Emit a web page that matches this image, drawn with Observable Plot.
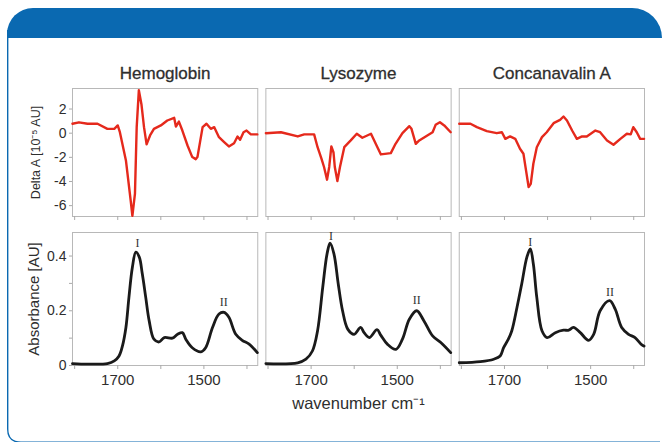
<!DOCTYPE html>
<html><head><meta charset="utf-8">
<script src="https://cdn.jsdelivr.net/npm/d3@7"></script>
<script src="https://cdn.jsdelivr.net/npm/@observablehq/plot@0.6"></script>
<style>
html,body{margin:0;padding:0;background:#fff;font-family:"Liberation Sans",Arial,sans-serif;overflow:hidden;}
#page{position:relative;width:666px;height:442px;overflow:hidden;background:#fff;}
#band{position:absolute;left:7px;top:8px;width:655px;height:30px;background:#0a69b1;border-radius:26px 30px 0 0;}
#border{position:absolute;left:0;top:0;}
.plot{position:absolute;left:0;}
</style></head>
<body>
<div id="page">
<svg id="border" width="666" height="442"><path d="M7.7,30 V429 Q7.7,442.2 21,442.2 H660" fill="none" stroke="#0a69b1" stroke-width="1.4"/></svg>
<div id="band"></div>
</div>
<script>
// ---- data ----
const proteins = ["Hemoglobin", "Lysozyme", "Concanavalin A"];
const xTicks = [1800, 1700, 1600, 1500, 1400];
const xTickLabels = [1700, 1500];
const deltaTicks = [-6, -4, -2, 0, 2];
const absTicks = [0, 0.1, 0.2, 0.3, 0.4];
const absTickLabels = [0, 0.2, 0.4];
const deltaLabel = "Delta A [10\u207B\u2075 AU]";
const absLabel = "Absorbance [AU]";
const xLabel = "wavenumber cm\u207B\u00B9";

// difference spectra [wavenumber, Delta A]
const hbDelta = [[1805,0.78],[1790,0.9],[1770,0.78],[1747,0.78],[1724,0.36],[1708,0.36],[1700,0.64],[1695,0.08],[1681,-2.26],[1670,-5.56],[1666,-6.85],[1660,-5.0],[1656,0.5],[1651,3.55],[1645,2.4],[1639,0.5],[1633,-0.93],[1625,-0.19],[1616,0.36],[1600,0.64],[1585,1.05],[1569,1.27],[1565,0.55],[1558,0.96],[1550,0.22],[1538,-1.02],[1527,-1.98],[1519,-2.15],[1515,-1.98],[1503,0.5],[1494,0.78],[1484,0.36],[1476,0.5],[1465,-0.33],[1453,-0.74],[1442,-1.1],[1430,-0.83],[1422,-0.28],[1416,-0.55],[1408,0.08],[1401,0.22],[1391,-0.1],[1376,-0.1]];
const lyDelta = [[1805,0],[1770,0.08],[1731,-0.27],[1716,-0.1],[1693,-0.1],[1685,-1.16],[1676,-2.1],[1670,-2.8],[1663,-3.85],[1658,-2.8],[1653,-1.1],[1648,-1.6],[1645,-2.8],[1639,-3.97],[1633,-2.8],[1623,-1.16],[1608,-0.6],[1594,-0.05],[1581,-0.38],[1561,-0.05],[1550,-0.88],[1538,-1.76],[1515,-1.65],[1504,-0.88],[1488,0],[1472,0.58],[1467,0.36],[1457,-0.88],[1449,-0.6],[1434,-0.27],[1418,0.08],[1411,0.69],[1401,0.91],[1391,0.64],[1376,0.08]];
const coDelta = [[1805,0.78],[1779,0.78],[1764,0.5],[1741,0.17],[1718,0],[1706,0.08],[1698,-0.47],[1687,-0.27],[1675,-0.47],[1664,-1.29],[1656,-1.7],[1650,-3.08],[1644,-4.46],[1639,-4.2],[1633,-2.53],[1625,-1.16],[1613,-0.33],[1602,0.08],[1586,0.83],[1571,1.1],[1563,1.38],[1555,1.05],[1543,0.22],[1532,-0.47],[1520,-0.27],[1509,-0.27],[1489,0.22],[1478,0.08],[1462,-0.6],[1447,-0.96],[1431,-0.47],[1416,-0.05],[1407,-0.1],[1401,0.5],[1393,0.08],[1385,-0.47],[1376,-0.47]];

// absorbance spectra [wavenumber, AU]
const hbAbs = [[1805,0.007],[1770,0.005],[1724,0.007],[1708,0.017],[1697,0.035],[1689,0.072],[1681,0.139],[1674,0.249],[1666,0.359],[1658,0.414],[1650,0.396],[1643,0.335],[1635,0.249],[1627,0.163],[1616,0.096],[1604,0.086],[1592,0.102],[1573,0.1],[1561,0.114],[1550,0.12],[1542,0.096],[1527,0.065],[1507,0.05],[1496,0.065],[1480,0.139],[1465,0.188],[1453,0.194],[1442,0.176],[1426,0.114],[1411,0.092],[1395,0.078],[1376,0.047]];
const lyAbs = [[1805,0.007],[1731,0.01],[1712,0.023],[1697,0.053],[1685,0.127],[1673,0.286],[1663,0.408],[1656,0.447],[1647,0.408],[1637,0.298],[1627,0.2],[1615,0.133],[1600,0.114],[1585,0.139],[1577,0.12],[1565,0.102],[1547,0.131],[1538,0.11],[1523,0.078],[1503,0.059],[1488,0.096],[1472,0.169],[1455,0.2],[1438,0.163],[1418,0.108],[1399,0.084],[1376,0.047]];
const coAbs = [[1805,0.01],[1756,0.014],[1725,0.023],[1710,0.035],[1702,0.065],[1691,0.096],[1683,0.127],[1671,0.212],[1660,0.298],[1648,0.396],[1640,0.426],[1633,0.371],[1625,0.249],[1613,0.127],[1601,0.102],[1582,0.12],[1563,0.129],[1551,0.129],[1540,0.139],[1524,0.12],[1505,0.092],[1493,0.114],[1478,0.2],[1456,0.237],[1443,0.206],[1428,0.139],[1412,0.114],[1397,0.102],[1381,0.075],[1376,0.071]];

// amide band labels
const bandNames = ["I", "II"];
const hbBandPos = [[1654,0.446],[1454,0.23]];
const lyBandPos = [[1654,0.472],[1455,0.237]];
const coBandPos = [[1640,0.45],[1455,0.267]];

// ---- build tables ----
const deltaSeries = [hbDelta, lyDelta, coDelta];
const absSeries = [hbAbs, lyAbs, coAbs];
const bandSeries = [hbBandPos, lyBandPos, coBandPos];
const deltaData = proteins.flatMap((p, i) => deltaSeries[i].map(([w, v]) => ({protein: p, w, v})));
const absData = proteins.flatMap((p, i) => absSeries[i].map(([w, v]) => ({protein: p, w, v})));
const bandData = proteins.flatMap((p, i) => bandSeries[i].map(([w, v], j) => ({protein: p, w, v, name: bandNames[j]})));

const font = "'Liberation Sans', Arial, Helvetica, sans-serif";
const ink = "#2e2e2e";
const fxScale = {domain: proteins, paddingInner: 0.042, paddingOuter: 0, round: false, axis: null};
const xScale = {domain: [1805, 1375], axis: null};
const fmtMinus = d => d < 0 ? "-" + Math.abs(d) : String(d);

const topPlot = Plot.plot({
  width: 666, height: 163,
  marginLeft: 72, marginRight: 22, marginTop: 28, marginBottom: 7,
  style: {fontFamily: font, background: "transparent", overflow: "visible"},
  fx: fxScale,
  x: xScale,
  y: {domain: [-6.9, 3.7], axis: null},
  marks: [
    Plot.frame({stroke: "#b8b8b8", strokeWidth: 1}),
    Plot.axisX({ticks: xTicks, tickFormat: () => "", tickSize: 4, stroke: "#aaa", label: null}),
    Plot.axisY({ticks: deltaTicks, tickFormat: fmtMinus, tickSize: 3, tickPadding: 3, fontSize: 14, stroke: "#aaa", fill: ink, label: null}),
    Plot.text(proteins, {fx: d => d, text: d => d, frameAnchor: "top", dy: -15, fontSize: 17, fill: ink, stroke: ink, strokeWidth: 0.3, lineAnchor: "middle"}),
    Plot.text([{protein: proteins[0], t: deltaLabel}], {fx: "protein", text: "t", frameAnchor: "left", dx: -37, rotate: -90, fontSize: 12.5, fill: ink, lineAnchor: "middle", textAnchor: "middle"}),
    Plot.line(deltaData, {x: "w", y: "v", fx: "protein", stroke: "#e5291c", strokeWidth: 2.4, curve: "linear"})
  ]
});
topPlot.classList.add("plot");
topPlot.style.top = "60px";

const botPlot = Plot.plot({
  width: 666, height: 190,
  marginLeft: 72, marginRight: 22, marginTop: 7, marginBottom: 50,
  style: {fontFamily: font, background: "transparent", overflow: "visible"},
  fx: fxScale,
  x: xScale,
  y: {domain: [0, 0.486], axis: null},
  marks: [
    Plot.frame({stroke: "#b8b8b8", strokeWidth: 1}),
    Plot.axisX({ticks: xTicks, tickFormat: d => xTickLabels.includes(d) ? String(d) : "", tickSize: 4, tickPadding: 5, fontSize: 15, stroke: "#aaa", fill: ink, label: null}),
    Plot.axisY({ticks: absTicks, tickFormat: d => absTickLabels.includes(d) ? String(d) : "", tickSize: 3, tickPadding: 3, fontSize: 14, stroke: "#aaa", fill: ink, label: null}),
    Plot.text([{protein: proteins[0], t: absLabel}], {fx: "protein", text: "t", frameAnchor: "left", dx: -38, rotate: -90, fontSize: 15, fill: ink, lineAnchor: "middle", textAnchor: "middle"}),
    Plot.text([{protein: proteins[1], t: xLabel}], {fx: "protein", text: "t", frameAnchor: "bottom", dy: 38, fontSize: 16.5, fill: ink, lineAnchor: "middle"}),
    Plot.line(absData, {x: "w", y: "v", fx: "protein", stroke: "#1a1a1a", strokeWidth: 2.8, curve: "catmull-rom"}),
    Plot.text(bandData, {x: "w", y: "v", fx: "protein", text: "name", fontFamily: "'Liberation Serif', 'DejaVu Serif', serif", fontSize: 12, fill: "#333", lineAnchor: "middle"})
  ]
});
botPlot.classList.add("plot");
botPlot.style.top = "225px";

const page = document.getElementById("page");
page.appendChild(topPlot);
page.appendChild(botPlot);
</script>
</body></html>
